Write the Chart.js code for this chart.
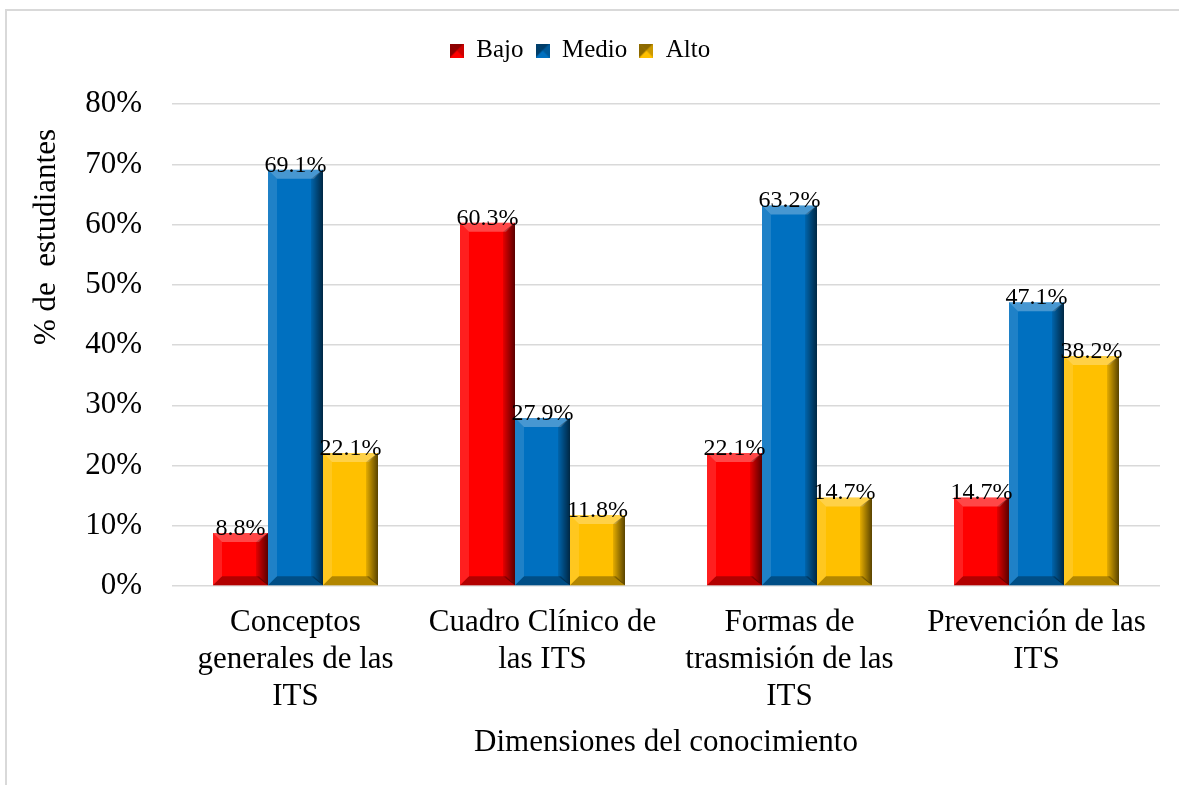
<!DOCTYPE html>
<html>
<head>
<meta charset="utf-8">
<script src="https://cdn.jsdelivr.net/npm/chart.js@4.4.1/dist/chart.umd.min.js"></script>
<style>
  html, body { margin: 0; padding: 0; background: #fff; overflow: hidden; }
  #frame { position: absolute; left: 5px; top: 9px; width: 1300px; height: 900px; border: 2px solid #d9d9d9; }
  #wrap { position: absolute; left: 0; top: 0; width: 1179px; height: 785px; }
</style>
</head>
<body>
<div id="frame"></div>
<div id="wrap"><canvas id="chart"></canvas></div>
<script>
/* ── Data ── */
const categories = [
  ['Conceptos', 'generales de las', 'ITS'],
  ['Cuadro Clínico de', 'las ITS'],
  ['Formas de', 'trasmisión de las', 'ITS'],
  ['Prevención de las', 'ITS'],
];
const seriesNames = ['Bajo', 'Medio', 'Alto'];
const bajo  = [8.8, 60.3, 22.1, 14.7];
const medio = [69.1, 27.9, 63.2, 47.1];
const alto  = [22.1, 11.8, 14.7, 38.2];
const yTicks = [0, 10, 20, 30, 40, 50, 60, 70, 80];

const COLORS = ['#ff0000', '#0070c0', '#ffc000'];
const SERIF  = '"Liberation Serif", "Times New Roman", serif';

/* ── small bevelled swatch for the legend ── */
function swatch(color) {
  const c = document.createElement('canvas');
  c.width = 14; c.height = 14;
  const g = c.getContext('2d');
  g.fillStyle = color; g.fillRect(0, 0, 14, 14);
  g.fillStyle = 'rgba(0,0,0,0.45)';
  g.beginPath(); g.moveTo(0, 0); g.lineTo(14, 0); g.lineTo(7, 7); g.closePath(); g.fill();
  g.beginPath(); g.moveTo(0, 0); g.lineTo(0, 14); g.lineTo(7, 7); g.closePath(); g.fill();
  g.fillStyle = 'rgba(0,0,0,0.2)';
  g.beginPath(); g.moveTo(14, 0); g.lineTo(14, 14); g.lineTo(7, 7); g.closePath(); g.fill();
  return c;
}
const swatches = COLORS.map(swatch);

/* ── 3D bevel on each bar ── */
const bevelPlugin = {
  id: 'bevel',
  afterDatasetsDraw(chart) {
    const ctx = chart.ctx;
    chart.data.datasets.forEach((ds, i) => {
      chart.getDatasetMeta(i).data.forEach(bar => {
        const p = bar.getProps(['x', 'y', 'base', 'width'], true);
        const l = p.x - p.width / 2, r = p.x + p.width / 2;
        const t = p.y, b = p.base;
        const k = Math.min(9, (b - t) / 2);
        ctx.save();
        // top
        ctx.fillStyle = 'rgba(255,255,255,0.28)';
        ctx.beginPath(); ctx.moveTo(l, t); ctx.lineTo(r, t); ctx.lineTo(r - k, t + k); ctx.lineTo(l + k, t + k); ctx.closePath(); ctx.fill();
        // left
        ctx.fillStyle = 'rgba(255,255,255,0.12)';
        ctx.beginPath(); ctx.moveTo(l, t); ctx.lineTo(l + k, t + k); ctx.lineTo(l + k, b - k); ctx.lineTo(l, b); ctx.closePath(); ctx.fill();
        // right
        const gr = ctx.createLinearGradient(r - 12, 0, r, 0);
        gr.addColorStop(0, 'rgba(0,0,0,0.1)');
        gr.addColorStop(1, 'rgba(0,0,0,0.65)');
        ctx.fillStyle = gr;
        ctx.beginPath(); ctx.moveTo(r, t); ctx.lineTo(r - 12, t + k); ctx.lineTo(r - 12, b - k); ctx.lineTo(r, b); ctx.closePath(); ctx.fill();
        // bottom
        ctx.fillStyle = 'rgba(0,0,0,0.3)';
        ctx.beginPath(); ctx.moveTo(l, b); ctx.lineTo(r, b); ctx.lineTo(r - k, b - k); ctx.lineTo(l + k, b - k); ctx.closePath(); ctx.fill();
        ctx.restore();
      });
    });
  },
};

/* ── value labels ── */
const labelPlugin = {
  id: 'valueLabels',
  afterDatasetsDraw(chart) {
    const ctx = chart.ctx;
    ctx.save();
    ctx.font = '24px ' + SERIF;
    ctx.fillStyle = '#000';
    ctx.textAlign = 'center';
    ctx.textBaseline = 'alphabetic';
    chart.data.datasets.forEach((ds, i) => {
      chart.getDatasetMeta(i).data.forEach((bar, j) => {
        ctx.fillText(ds.data[j].toFixed(1) + '%', bar.x, bar.y + 2);
      });
    });
    ctx.restore();
  },
};

/* ── y axis title ── */
const yTitlePlugin = {
  id: 'yTitle',
  afterDraw(chart) {
    const ctx = chart.ctx;
    ctx.save();
    ctx.translate(47, 237);
    ctx.rotate(-Math.PI / 2);
    ctx.font = '31px ' + SERIF;
    ctx.fillStyle = '#000';
    ctx.textAlign = 'center';
    ctx.textBaseline = 'middle';
    ctx.fillText('% de  estudiantes', 0, 0);
    ctx.restore();
  },
};

new Chart(document.getElementById('chart'), {
  type: 'bar',
  data: {
    labels: categories,
    datasets: [bajo, medio, alto].map((data, i) => ({
      label: seriesNames[i],
      data,
      backgroundColor: COLORS[i],
      borderWidth: 0,
      categoryPercentage: 0.668,
      barPercentage: 1,
    })),
  },
  options: {
    responsive: true,
    maintainAspectRatio: false,
    animation: false,
    layout: { padding: { top: 26, right: 19, bottom: 0, left: 0 } },
    plugins: {
      legend: {
        position: 'top',
        labels: {
          color: '#000',
          font: { family: SERIF, size: 25 },
          usePointStyle: true,
          boxWidth: 14,
          boxHeight: 14,
          padding: 12,
          generateLabels(chart) {
            const items = Chart.defaults.plugins.legend.labels.generateLabels(chart);
            items.forEach((it, i) => { it.pointStyle = swatches[i]; });
            return items;
          },
        },
      },
      // empty spacer between legend and plot area
      title: { display: true, text: ' ', weight: 500, font: { size: 1 }, padding: { top: 0, bottom: 30 } },
      tooltip: { enabled: false },
    },
    scales: {
      x: {
        grid: { display: false, drawTicks: false },
        border: { display: false },
        ticks: { color: '#000', font: { family: SERIF, size: 31, lineHeight: 1.2 }, padding: 18, maxRotation: 0 },
        title: { display: true, text: 'Dimensiones del conocimiento', color: '#000', font: { family: SERIF, size: 31 }, padding: { top: 0, bottom: 24 } },
        afterFit(scale) { scale.height = 199; },
      },
      y: {
        min: 0,
        max: 80,
        afterBuildTicks(scale) { scale.ticks = yTicks.map(v => ({ value: v })); },
        grid: { color: '#d9d9d9', lineWidth: 1.5, drawTicks: false },
        border: { display: false },
        ticks: { color: '#000', font: { family: SERIF, size: 31 }, padding: 30, callback: v => v + '%' },
        afterFit(scale) { scale.width = 172; },
      },
    },
  },
  plugins: [bevelPlugin, labelPlugin, yTitlePlugin],
});
</script>
</body>
</html>
